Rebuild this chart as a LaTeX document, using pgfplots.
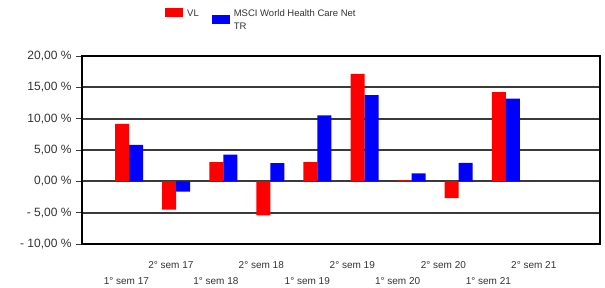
\documentclass[border=0pt]{standalone}
\usepackage{fontspec}
\setmainfont{Liberation Sans}
\usepackage{pgfplots}
\pgfplotsset{compat=1.18}
\definecolor{txt}{HTML}{333333}
\definecolor{grd}{HTML}{3A3A3A}
\begin{document}
\begin{tikzpicture}[x=1pt,y=1pt]
\path (0,0) rectangle (605,286);
\begin{axis}[
  at={(82pt,42pt)}, anchor=south west, scale only axis,
  width=518pt, height=188pt,
  xmin=-1, xmax=10, ymin=-10, ymax=20,
  ybar=0pt, bar width=14pt,
  axis line style={black, line width=1.8pt},
  ytick={-10,-5,0,5,10,15,20},
  yticklabels={{- 10,00 \%},{- 5,00 \%},{0,00 \%},{5,00 \%},{10,00 \%},{15,00 \%},{20,00 \%}},
  ytick pos=left, tick align=outside, major tick length=6pt,
  ytick style={grd, line width=1pt},
  yticklabel style={font=\fontsize{12}{12}\selectfont, text=txt, xshift=-1pt},
  ymajorgrids, major grid style={grd, line width=1.8pt},
  xtick={0.888,2.807,4.740,6.674,8.594},
  xticklabels={2° sem 17,2° sem 18,2° sem 19,2° sem 20,2° sem 21},
  xtick style={draw=none},
  xticklabel style={anchor=base, yshift=-18pt, font=\fontsize{10}{10}\selectfont, text=txt},
  extra x ticks={-0.057,1.843,3.784,5.702,7.630},
  extra x tick labels={1° sem 17,1° sem 18,1° sem 19,1° sem 20,1° sem 21},
  extra x tick style={grid=none, xtick style={draw=none}, xticklabel style={yshift=-16pt}},
  legend style={at={(rel axis cs:0.1602,1.258)}, anchor=north west, draw=none, fill=none,
    inner sep=0pt, font=\fontsize{9.5}{13}\selectfont, text=txt,
    cells={align=left},
    /tikz/every odd column/.append style={column sep=2pt},
    /tikz/every even column/.append style={column sep=11pt}},
  legend columns=2, legend cell align=left,
]
\addplot[fill=red, draw=none,
  legend image code/.code={\fill[red] (0pt,3.8pt) rectangle (18pt,12pt);}]
  coordinates {(0,9.18) (1,-4.5) (2,3.05) (3,-5.44) (4,3.05) (5,17.14) (6,0.15) (7,-2.69) (8,14.24)};
\addlegendentry{VL\\\mbox{}}
\addplot[fill=blue, draw=none,
  legend image code/.code={\fill[blue] (0pt,-3.35pt) rectangle (18pt,4.95pt);}]
  coordinates {(0,5.8) (1,-1.65) (2,4.27) (3,2.9) (4,10.54) (5,13.76) (6,1.27) (7,2.94) (8,13.18)};
\addlegendentry{MSCI World Health Care Net\\TR}
\end{axis}
\end{tikzpicture}
\end{document}
